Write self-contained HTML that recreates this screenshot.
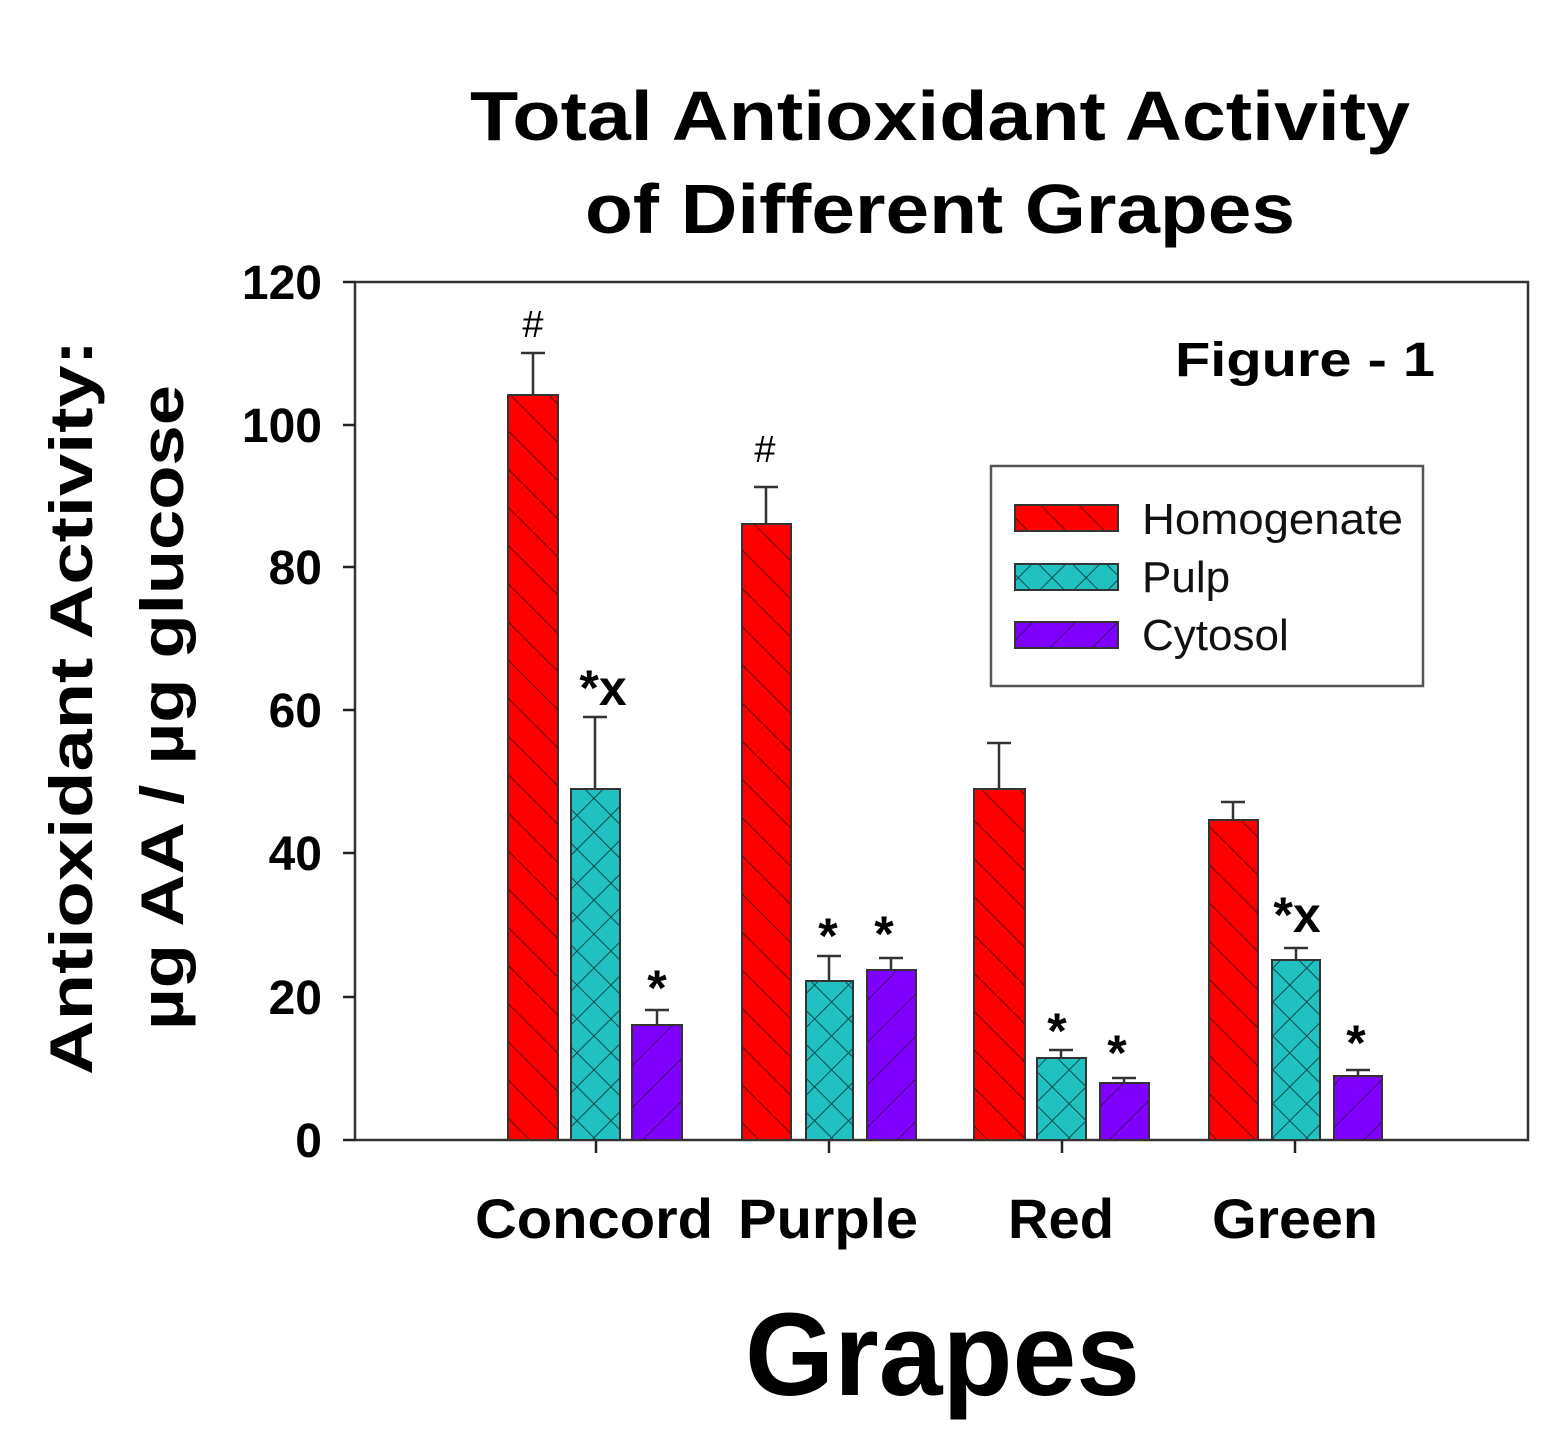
<!DOCTYPE html>
<html><head><meta charset="utf-8"><style>html,body{margin:0;padding:0;background:#fff}svg{display:block}</style></head>
<body>
<svg width="1547" height="1448" viewBox="0 0 1547 1448" xmlns="http://www.w3.org/2000/svg" font-family="Liberation Sans, Arial, sans-serif">
<defs>
<pattern id="ph" patternUnits="userSpaceOnUse" width="27" height="27" patternTransform="rotate(-45)">
<rect width="27" height="27" fill="#ff0000"/><line x1="0" y1="0" x2="0" y2="27" stroke="#7a0000" stroke-width="2.5"/></pattern>
<pattern id="pp" patternUnits="userSpaceOnUse" width="24" height="24" patternTransform="rotate(45)">
<rect width="24" height="24" fill="#22c1c1"/><line x1="0" y1="0" x2="0" y2="24" stroke="#0d4a4a" stroke-width="2"/><line x1="0" y1="0" x2="24" y2="0" stroke="#0d4a4a" stroke-width="2"/></pattern>
<pattern id="pc" patternUnits="userSpaceOnUse" width="30" height="30" patternTransform="rotate(45)">
<rect width="30" height="30" fill="#8000ff"/><line x1="0" y1="0" x2="0" y2="30" stroke="#3a0070" stroke-width="2"/></pattern>
</defs>
<text x="470" y="140" font-size="70" font-weight="bold" textLength="940" lengthAdjust="spacingAndGlyphs">Total Antioxidant Activity</text>
<text x="585" y="233" font-size="70" font-weight="bold" textLength="710" lengthAdjust="spacingAndGlyphs">of Different Grapes</text>
<rect x="355" y="282" width="1173" height="858" fill="none" stroke="#333" stroke-width="2.5"/>
<g stroke="#222" stroke-width="2.5">
<line x1="343" y1="1140" x2="355" y2="1140"/><line x1="343" y1="997" x2="355" y2="997"/><line x1="343" y1="853" x2="355" y2="853"/><line x1="343" y1="710" x2="355" y2="710"/><line x1="343" y1="567" x2="355" y2="567"/><line x1="343" y1="425" x2="355" y2="425"/><line x1="343" y1="282" x2="355" y2="282"/>
<line x1="596" y1="1140" x2="596" y2="1153"/><line x1="829" y1="1140" x2="829" y2="1153"/><line x1="1062" y1="1140" x2="1062" y2="1153"/><line x1="1295" y1="1140" x2="1295" y2="1153"/>
</g>
<g font-size="48" font-weight="bold" text-anchor="end">
<text x="322" y="1157">0</text><text x="322" y="1014">20</text><text x="322" y="870">40</text><text x="322" y="727">60</text><text x="322" y="584">80</text><text x="322" y="442">100</text><text x="322" y="299">120</text>
</g>
<text transform="translate(92,1075) rotate(-90)" font-size="60" font-weight="bold" textLength="735" lengthAdjust="spacingAndGlyphs">Antioxidant  Activity:</text>
<text transform="translate(183,1030) rotate(-90)" font-size="60" font-weight="bold" textLength="645" lengthAdjust="spacingAndGlyphs">µg AA / µg glucose</text>
<g stroke="#333" stroke-width="2.5">
<line x1="533" y1="395" x2="533" y2="353"/><line x1="521" y1="353" x2="545" y2="353"/>
<line x1="595" y1="789" x2="595" y2="717"/><line x1="583" y1="717" x2="607" y2="717"/>
<line x1="657" y1="1025" x2="657" y2="1010"/><line x1="645" y1="1010" x2="669" y2="1010"/>
<line x1="766" y1="524" x2="766" y2="487"/><line x1="754" y1="487" x2="778" y2="487"/>
<line x1="829" y1="981" x2="829" y2="956"/><line x1="817" y1="956" x2="841" y2="956"/>
<line x1="891" y1="970" x2="891" y2="958"/><line x1="879" y1="958" x2="903" y2="958"/>
<line x1="999" y1="789" x2="999" y2="743"/><line x1="987" y1="743" x2="1011" y2="743"/>
<line x1="1061" y1="1058" x2="1061" y2="1050"/><line x1="1049" y1="1050" x2="1073" y2="1050"/>
<line x1="1124" y1="1083" x2="1124" y2="1078"/><line x1="1112" y1="1078" x2="1136" y2="1078"/>
<line x1="1233" y1="820" x2="1233" y2="802"/><line x1="1221" y1="802" x2="1245" y2="802"/>
<line x1="1296" y1="960" x2="1296" y2="948"/><line x1="1284" y1="948" x2="1308" y2="948"/>
<line x1="1358" y1="1076" x2="1358" y2="1070"/><line x1="1346" y1="1070" x2="1370" y2="1070"/>
</g>
<g stroke="#333" stroke-width="2">
<rect x="508" y="395" width="50" height="745" fill="url(#ph)"/>
<rect x="571" y="789" width="49" height="351" fill="url(#pp)"/>
<rect x="632" y="1025" width="50" height="115" fill="url(#pc)"/>
<rect x="742" y="524" width="49" height="616" fill="url(#ph)"/>
<rect x="806" y="981" width="47" height="159" fill="url(#pp)"/>
<rect x="867" y="970" width="49" height="170" fill="url(#pc)"/>
<rect x="974" y="789" width="51" height="351" fill="url(#ph)"/>
<rect x="1037" y="1058" width="49" height="82" fill="url(#pp)"/>
<rect x="1100" y="1083" width="49" height="57" fill="url(#pc)"/>
<rect x="1209" y="820" width="49" height="320" fill="url(#ph)"/>
<rect x="1272" y="960" width="48" height="180" fill="url(#pp)"/>
<rect x="1334" y="1076" width="48" height="64" fill="url(#pc)"/>
</g>
<g font-size="38" text-anchor="middle">
<text x="533" y="337">#</text><text x="765" y="462">#</text>
</g>
<g font-size="50" font-weight="bold" text-anchor="middle">
<text x="603" y="705">*x</text><text x="1297" y="932">*x</text>
<text x="657" y="1005">*</text><text x="828" y="953">*</text><text x="884" y="951">*</text>
<text x="1057" y="1048">*</text><text x="1117" y="1070">*</text><text x="1356" y="1060">*</text>
</g>
<text x="1175" y="376" font-size="48" font-weight="bold" textLength="260" lengthAdjust="spacingAndGlyphs">Figure - 1</text>
<rect x="991" y="466" width="432" height="220" fill="#fff" stroke="#555" stroke-width="2.5"/>
<g stroke="#333" stroke-width="2">
<rect x="1015" y="505" width="103" height="26" fill="url(#ph)"/>
<rect x="1015" y="564" width="103" height="26" fill="url(#pp)"/>
<rect x="1015" y="622" width="103" height="26" fill="url(#pc)"/>
</g>
<g font-size="44" fill="#111">
<text x="1142" y="534" textLength="261" lengthAdjust="spacingAndGlyphs">Homogenate</text><text x="1142" y="592">Pulp</text><text x="1142" y="650">Cytosol</text>
</g>
<g font-size="56" font-weight="bold">
<text x="475" y="1238" textLength="238" lengthAdjust="spacingAndGlyphs">Concord</text><text x="738" y="1238" textLength="180" lengthAdjust="spacingAndGlyphs">Purple</text><text x="1008" y="1238" textLength="106" lengthAdjust="spacingAndGlyphs">Red</text><text x="1212" y="1238" textLength="166" lengthAdjust="spacingAndGlyphs">Green</text>
</g>
<text x="745" y="1395" font-size="118" font-weight="bold" textLength="395" lengthAdjust="spacingAndGlyphs">Grapes</text>
</svg>
</body></html>
